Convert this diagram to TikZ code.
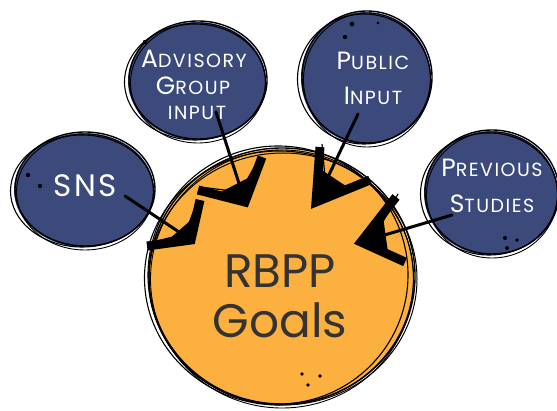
\documentclass[tikz,border=0pt]{standalone}
\usepackage{fontspec}
\setmainfont{Poppins}
\newfontfamily\capsfont[LetterSpace=8]{Poppins}
\usetikzlibrary{shapes.geometric,calc}
\definecolor{navy}{HTML}{3B4A7B}
\definecolor{gold}{HTML}{FBB040}
\definecolor{ink}{HTML}{333333}
\newcommand\Bcap[1]{{\fontsize{25}{25}\selectfont #1}}
\newcommand\Scap[1]{{\fontsize{19}{19}\selectfont #1}}
% #1 x, #2 y, #3 rx, #4 ry, #5 colour
\newcommand\skblob[5]{%
  \fill[#5] (#1,#2) ellipse [x radius=#3pt, y radius=#4pt];
  \draw[ring] (#1+1,#2-1) ellipse [x radius=#3pt, y radius=#4pt];
  \draw[ring,line width=1.1pt] (#1-2,#2+1) ellipse [x radius=#3pt+1.5pt, y radius=#4pt-1pt];
  \draw[ring,line width=0.9pt] (#1+1,#2+2) ellipse [x radius=#3pt-1.5pt, y radius=#4pt+1pt];
}
\newcommand\chev[4]{%
  \draw[shaft] (#1) -- (#2);
  \fill[black] (#2) -- ($(#2)!0.62!(#3)$) -- ($(#2)!0.62!(#4)$) -- cycle;
  \draw[headline] (#3) -- (#2) -- (#4);
  \draw[line width=1.2pt] ($(#3)+(2,-3)$) -- ($(#2)!0.2!(#4)$);
  \draw[line width=1.2pt] ($(#4)+(-3,2)$) -- ($(#2)!0.2!(#3)$);
}
\begin{document}
\begin{tikzpicture}[x=1pt,y=-1pt,
  ring/.style={draw=black,line width=1.4pt},
  blob/.style={ellipse,inner sep=0pt},
  shaft/.style={line width=3pt,line cap=round},
  headline/.style={line width=9pt,line join=miter,miter limit=3,line cap=butt},
  lbl/.style={text=white,font=\capsfont,inner sep=0pt,anchor=base},
  dot/.style={fill=black}]
\useasboundingbox (0,0) rectangle (557,411);
% satellite circles
\node[blob,minimum width=140pt,minimum height=114pt] (sns) at (84,190) {};
\skblob{84}{190}{70}{57}{navy}
\node[blob,minimum width=138pt,minimum height=118pt] (adv) at (197,81) {};
\skblob{197}{81}{69}{59}{navy}
\node[blob,minimum width=130pt,minimum height=132pt] (pub) at (366,78) {};
\skblob{366}{78}{65}{66}{navy}
\node[blob,minimum width=134pt,minimum height=124pt] (prev) at (491,193) {};
\skblob{491}{193}{67}{62}{navy}
% main circle
\node[blob,minimum width=266pt,minimum height=256pt] (goal) at (281,277) {};
\skblob{281}{277}{133}{128}{gold}
\draw[ring,line width=1.1pt] (278,275) ellipse [x radius=130pt, y radius=129pt];
\draw[ring,line width=1pt] (283,279) ellipse [x radius=134pt, y radius=126pt];
% dots
\fill[dot] (28,175) circle (2.2pt) (40,186) circle (2.2pt);
\fill[dot] (145,42) circle (2.2pt);
\fill[dot] (352,24) circle (2.3pt) (378,23) circle (1.4pt) (345,37) circle (2.2pt);
\fill[dot] (505,238) circle (2pt) (517,240) circle (1.8pt) (507,248) circle (2pt);
\fill[dot] (302,374) circle (1.8pt) (320,376) circle (1.8pt) (308,385) circle (1.8pt);
% arrow coordinates
\coordinate (s1) at (125,196); \coordinate (t1) at (191,240);
\coordinate (a1) at (147,246); \coordinate (b1) at (200,200);
\coordinate (s2) at (216,112); \coordinate (t2) at (245,202);
\coordinate (a2) at (198,190); \coordinate (b2) at (262,157);
\coordinate (s3) at (358,114); \coordinate (t3) at (316,202);
\coordinate (a3) at (320,147); \coordinate (b3) at (370,180);
\coordinate (s4) at (452,215); \coordinate (t4) at (361,242);
\coordinate (a4) at (396,197); \coordinate (b4) at (405,262);
\chev{s1}{t1}{a1}{b1}
\chev{s2}{t2}{a2}{b2}
\chev{s3}{t3}{a3}{b3}
\chev{s4}{t4}{a4}{b4}
% labels
\node[lbl] (snst) at (85,197) {\fontsize{31}{31}\selectfont SNS};
\node[lbl] (adv1) at (194,68) {\Bcap{A}\Scap{DVISORY}};
\node[lbl] (adv2) at (193,95) {\Bcap{G}\Scap{ROUP}};
\node[lbl] (adv3) at (197,120) {\Scap{INPUT}};
\node[lbl] (pub1) at (373,70) {\Bcap{P}\Scap{UBLIC}};
\node[lbl] (pub2) at (373,105) {\Bcap{I}\Scap{NPUT}};
\node[lbl] (prev1) at (492,177) {\Bcap{P}\Scap{REVIOUS}};
\node[lbl] (prev2) at (492,213) {\Bcap{S}\Scap{TUDIES}};
\node[text=ink,inner sep=0pt,anchor=base] (g1) at (280,288) {\fontsize{47}{47}\selectfont RBPP};
\node[text=ink,inner sep=0pt,anchor=base] (g2) at (280,338) {\fontsize{47}{47}\selectfont Goals};
\end{tikzpicture}
\end{document}
